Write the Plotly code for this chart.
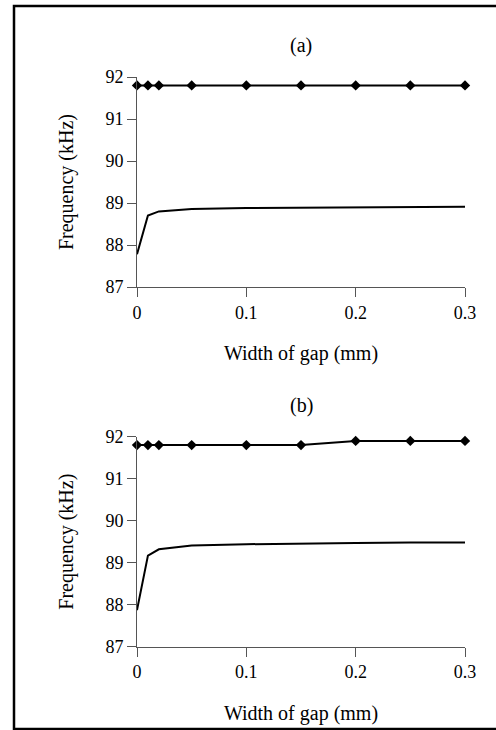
import plotly.graph_objects as go

# Data
gap_mm = [0, 0.01, 0.02, 0.05, 0.1, 0.15, 0.2, 0.25, 0.3]
a_upper = [91.8, 91.8, 91.8, 91.8, 91.8, 91.8, 91.8, 91.8, 91.8]
a_lower = [87.78, 88.7, 88.8, 88.86, 88.88, 88.89, 88.9, 88.91, 88.91]
b_upper = [91.8, 91.8, 91.8, 91.8, 91.8, 91.8, 91.9, 91.9, 91.9]
b_lower = [87.87, 89.17, 89.32, 89.41, 89.44, 89.46, 89.47, 89.48, 89.48]
x_ticks = [0, 0.1, 0.2, 0.3]
x_tick_labels = ["0", "0.1", "0.2", "0.3"]
y_ticks = [87, 88, 89, 90, 91, 92]
panel_labels = ["(a)", "(b)"]

W, H = 496, 730
FONT = "Liberation Serif"
AXC = "#555555"

def py(pix):
    return 1 - pix / H

fig = go.Figure()

panels = [
    ("x", "y", a_upper, a_lower, (py(287), py(77))),
    ("x2", "y2", b_upper, b_lower, (py(646.7), py(436.7))),
]

for xa, ya, up, lo, dom in panels:
    fig.add_trace(go.Scatter(x=gap_mm, y=up, xaxis=xa, yaxis=ya, mode="lines+markers",
                             line=dict(color="black", width=2),
                             marker=dict(symbol="diamond", size=8, color="black"),
                             cliponaxis=False, showlegend=False))
    fig.add_trace(go.Scatter(x=gap_mm, y=lo, xaxis=xa, yaxis=ya, mode="lines",
                             line=dict(color="black", width=2),
                             cliponaxis=False, showlegend=False))

xdom = [137 / W, 465 / W]
axis_common_x = dict(range=[0, 0.3], tickvals=x_ticks, ticktext=x_tick_labels,
                     showgrid=False, zeroline=False, showline=True, linecolor=AXC, linewidth=1,
                     ticks="outside", ticklen=9, tickcolor=AXC, tickwidth=1,
                     tickfont=dict(family=FONT, size=18, color="black"),
                     title=dict(text="Width of gap (mm)", font=dict(family=FONT, size=20, color="black"),
                                standoff=24),
                     automargin=False,
                     domain=xdom)
axis_common_y = dict(range=[87, 92], tickvals=y_ticks, showgrid=False, zeroline=False,
                     showline=True, linecolor=AXC, linewidth=1,
                     ticks="outside", ticklen=9, tickcolor=AXC, tickwidth=1,
                     tickfont=dict(family=FONT, size=18, color="black"),
                     title=dict(text="Frequency (kHz)", font=dict(family=FONT, size=20, color="black"),
                                standoff=26),
                     automargin=False)

fig.update_layout(
    width=W, height=H, margin=dict(l=0, r=0, t=0, b=0),
    paper_bgcolor="white", plot_bgcolor="white",
    xaxis=dict(**axis_common_x, anchor="y"),
    yaxis=dict(**axis_common_y, domain=list(panels[0][4]), anchor="x"),
    xaxis2=dict(**axis_common_x, anchor="y2"),
    yaxis2=dict(**axis_common_y, domain=list(panels[1][4]), anchor="x2"),
)

# panel labels
for lab, ypix in zip(panel_labels, [32, 405]):
    fig.add_annotation(text=lab, x=301 / W, y=py(ypix), xref="paper", yref="paper",
                       showarrow=False, font=dict(family=FONT, size=20, color="black"))

# outer frame
fig.add_shape(type="rect", xref="paper", yref="paper", x0=14 / W, x1=1.02,
              y0=py(729), y1=py(6), line=dict(color="black", width=2.5))

fig.write_html("out.html")
